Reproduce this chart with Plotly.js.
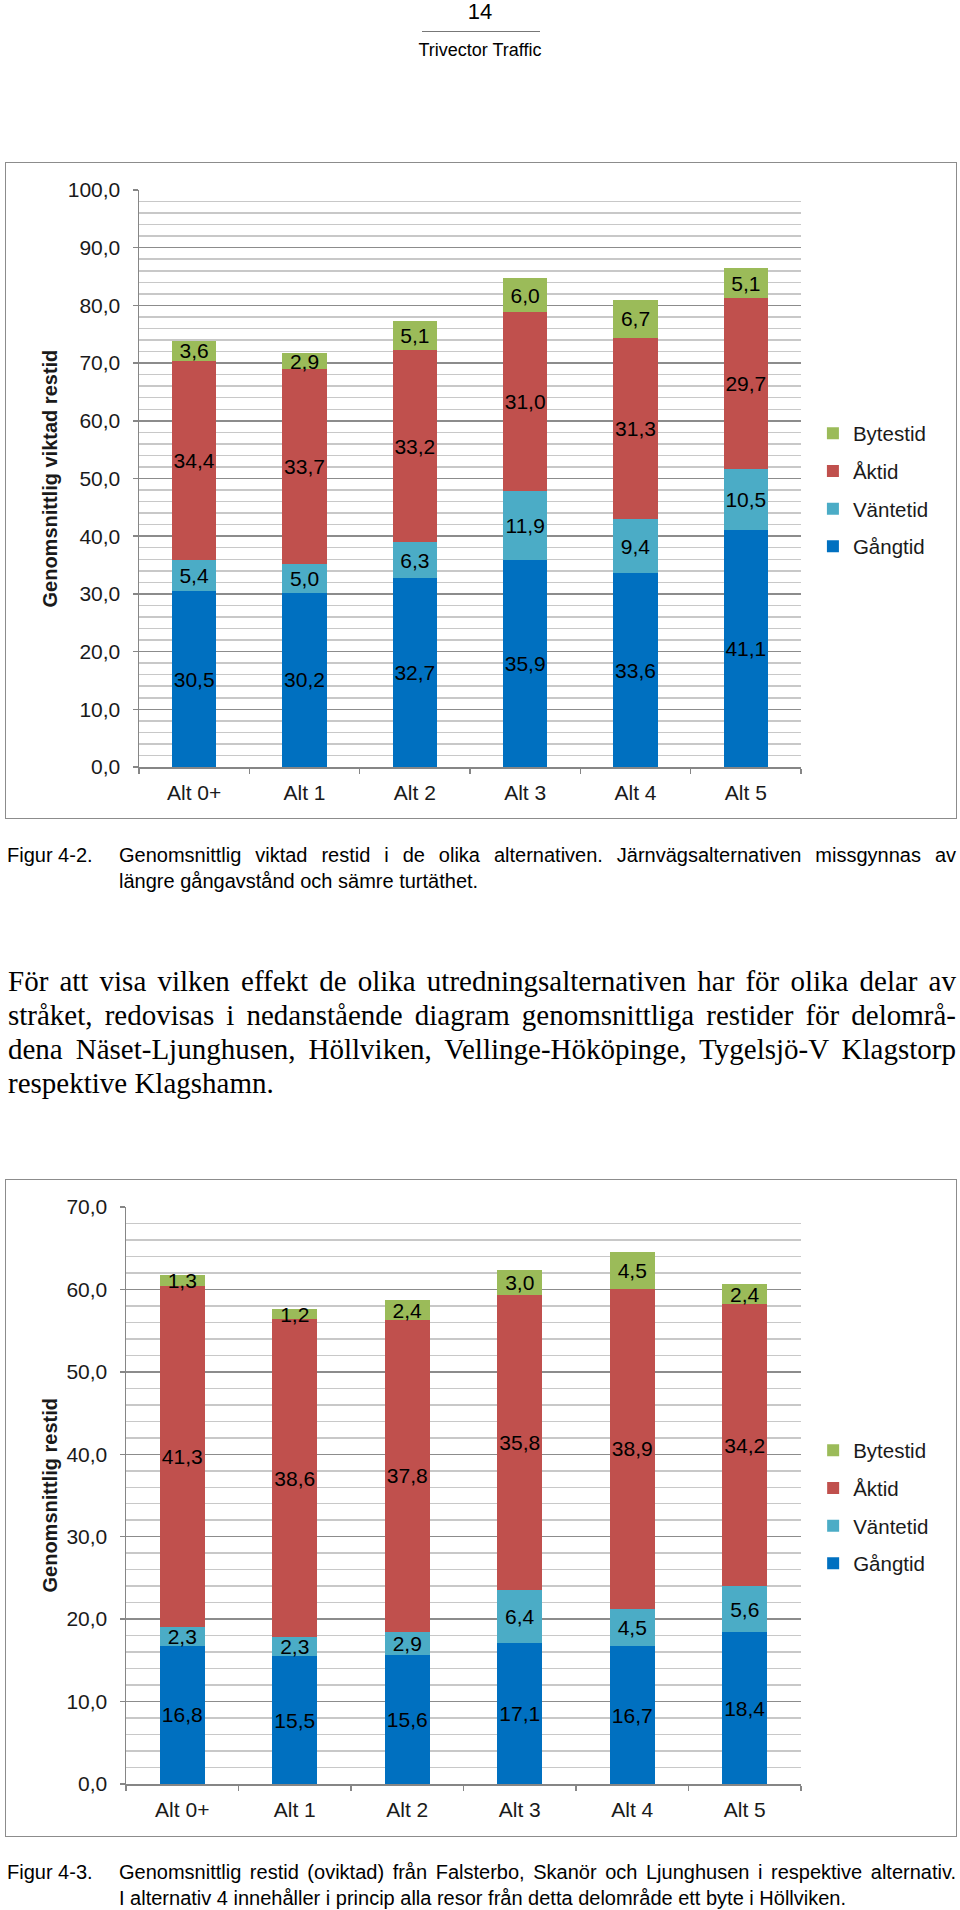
<!DOCTYPE html>
<html>
<head>
<meta charset="utf-8">
<script src="https://cdn.plot.ly/plotly-3.0.1.min.js"></script>
<style>
  body { margin: 0; background: #fff; }
  #page { position: relative; width: 960px; height: 1910px; overflow: hidden;
          font-family: "Liberation Sans", Arial, sans-serif; color: #000; background: #fff; }
  .abs { position: absolute; }
  .frame { position: absolute; border: 1.5px solid #8c8c8c; box-sizing: border-box; pointer-events: none; }
  .jl { text-align: justify; text-align-last: justify; }
  .ll { text-align: left; }
  .cap { font-size: 20px; line-height: 26px; }
  .para { font-family: "Liberation Serif", "Times New Roman", serif; font-size: 29px; line-height: 34px; }
</style>
</head>
<body>
<div id="page">
  <!-- header -->
  <div class="abs" style="left:0;width:960px;top:-1px;text-align:center;font-size:22px;line-height:26px;">14</div>
  <div class="abs" style="left:422px;width:118px;top:31px;height:1px;background:#777;"></div>
  <div class="abs" style="left:0;width:960px;top:39px;text-align:center;font-size:18px;line-height:22px;">Trivector Traffic</div>

  <!-- chart 1 -->
  <div id="chart1" class="abs" style="left:5px;top:162px;width:952px;height:657px;"></div>
  <div class="frame" style="left:5px;top:162px;width:952px;height:657px;"></div>

  <!-- caption 1 -->
  <div class="abs cap" style="left:7px;top:842px;">Figur 4-2.</div>
  <div class="abs cap" style="left:119px;top:842px;width:837px;">
    <div class="jl">Genomsnittlig viktad restid i de olika alternativen. Järnvägsalternativen missgynnas av</div>
    <div class="ll">längre gångavstånd och sämre turtäthet.</div>
  </div>

  <!-- paragraph -->
  <div class="abs para" style="left:8px;top:964px;width:948px;">
    <div class="jl">För att visa vilken effekt de olika utredningsalternativen har för olika delar av</div>
    <div class="jl">stråket, redovisas i nedanstående diagram genomsnittliga restider för delområ-</div>
    <div class="jl">dena Näset-Ljunghusen, Höllviken, Vellinge-Hököpinge, Tygelsjö-V Klagstorp</div>
    <div class="ll">respektive Klagshamn.</div>
  </div>

  <!-- chart 2 -->
  <div id="chart2" class="abs" style="left:5px;top:1179px;width:952px;height:658px;"></div>
  <div class="frame" style="left:5px;top:1179px;width:952px;height:658px;"></div>

  <!-- caption 2 -->
  <div class="abs cap" style="left:7px;top:1859px;">Figur 4-3.</div>
  <div class="abs cap" style="left:119px;top:1859px;width:837px;">
    <div class="jl">Genomsnittlig restid (oviktad) från Falsterbo, Skanör och Ljunghusen i respektive alternativ.</div>
    <div class="ll">I alternativ 4 innehåller i princip alla resor från detta delområde ett byte i Höllviken.</div>
  </div>
</div>

<script>
// ---------- data ----------
const categories = ['Alt 0+', 'Alt 1', 'Alt 2', 'Alt 3', 'Alt 4', 'Alt 5'];
const seriesNames = ['Gångtid', 'Väntetid', 'Åktid', 'Bytestid'];
const seriesColors = ['#0070C0', '#4BACC6', '#C0504D', '#9BBB59'];

// Figur 4-2: Genomsnittlig viktad restid
const viktadGangtid  = [30.5, 30.2, 32.7, 35.9, 33.6, 41.1];
const viktadVantetid = [5.4, 5.0, 6.3, 11.9, 9.4, 10.5];
const viktadAktid    = [34.4, 33.7, 33.2, 31.0, 31.3, 29.7];
const viktadBytestid = [3.6, 2.9, 5.1, 6.0, 6.7, 5.1];

// Figur 4-3: Genomsnittlig restid (oviktad)
const oviktadGangtid  = [16.8, 15.5, 15.6, 17.1, 16.7, 18.4];
const oviktadVantetid = [2.3, 2.3, 2.9, 6.4, 4.5, 5.6];
const oviktadAktid    = [41.3, 38.6, 37.8, 35.8, 38.9, 34.2];
const oviktadBytestid = [1.3, 1.2, 2.4, 3.0, 4.5, 2.4];

const chart1Title = 'Genomsnittlig viktad restid';
const chart2Title = 'Genomsnittlig restid';

// ---------- drawing ----------
const FONT = '"Liberation Sans", Arial, sans-serif';
const TXT = '#1a1a1a';
const AXC = '#868686';
const FS = 21;

function fmt(v) { return v.toFixed(1).replace('.', ','); }

function makeTraces(seriesValues) {
  return seriesValues.map((vals, i) => ({
    type: 'bar',
    name: seriesNames[i],
    legendgroup: seriesNames[i],
    legendrank: seriesNames.length - i,
    x: categories,
    y: vals,
    marker: { color: seriesColors[i], line: { width: 0 } },
    text: vals.map(fmt),
    textposition: 'inside',
    insidetextanchor: 'middle',
    textangle: 0,
    constraintext: 'none',
    textfont: { family: FONT, size: FS, color: '#000' },
    hoverinfo: 'skip',
    cliponaxis: false
  }));
}

function makeLayout(h, marginL, yMax, title, titleX) {
  return {
    width: 952, height: h,
    margin: { l: marginL, r: 156, t: 28, b: h - 28 - 577, pad: 0 },
    paper_bgcolor: 'rgba(0,0,0,0)', plot_bgcolor: 'rgba(0,0,0,0)',
    barmode: 'stack', bargap: 0.6,
    separators: ', ',
    font: { family: FONT, size: FS, color: TXT },
    showlegend: true,
    legend: {
      x: 1.018, xanchor: 'left', y: 0.48, yanchor: 'middle',
      traceorder: 'grouped', tracegroupgap: 8,
      bgcolor: 'rgba(0,0,0,0)', borderwidth: 0,
      font: { family: FONT, size: 20.5, color: TXT }
    },
    xaxis: {
      type: 'category', tickson: 'boundaries',
      ticks: 'outside', ticklen: 5, tickwidth: 1.5, tickcolor: AXC,
      showline: true, linecolor: AXC, linewidth: 1.5,
      showgrid: false, zeroline: false,
      ticklabelstandoff: 6,
      tickfont: { family: FONT, size: FS, color: TXT }
    },
    yaxis: {
      range: [0, yMax], tick0: 0, dtick: 10, tickformat: '.1f',
      ticks: 'outside', ticklen: 5, tickwidth: 1.5, tickcolor: AXC,
      showline: true, linecolor: AXC, linewidth: 1.5,
      showgrid: true, gridcolor: '#8c8c8c', gridwidth: 1.5,
      zeroline: false,
      minor: { tick0: 0, dtick: 2, showgrid: true, gridcolor: '#c8c8c8', gridwidth: 1.5, ticks: '' },
      ticklabelstandoff: 8,
      tickfont: { family: FONT, size: FS, color: TXT }
    },
    annotations: [{
      xref: 'paper', yref: 'paper', x: titleX, y: 0.5,
      text: '<b>' + title + '</b>', textangle: -90, showarrow: false,
      xanchor: 'center', yanchor: 'middle',
      font: { family: FONT, size: 20, color: TXT }
    }]
  };
}

const cfg = { staticPlot: true, displayModeBar: false };

Plotly.newPlot('chart1',
  makeTraces([viktadGangtid, viktadVantetid, viktadAktid, viktadBytestid]),
  makeLayout(657, 134, 100, chart1Title, (44 - 134) / 662),
  cfg);

Plotly.newPlot('chart2',
  makeTraces([oviktadGangtid, oviktadVantetid, oviktadAktid, oviktadBytestid]),
  makeLayout(658, 121, 70, chart2Title, (44 - 121) / 675),
  cfg);
</script>
</body>
</html>
